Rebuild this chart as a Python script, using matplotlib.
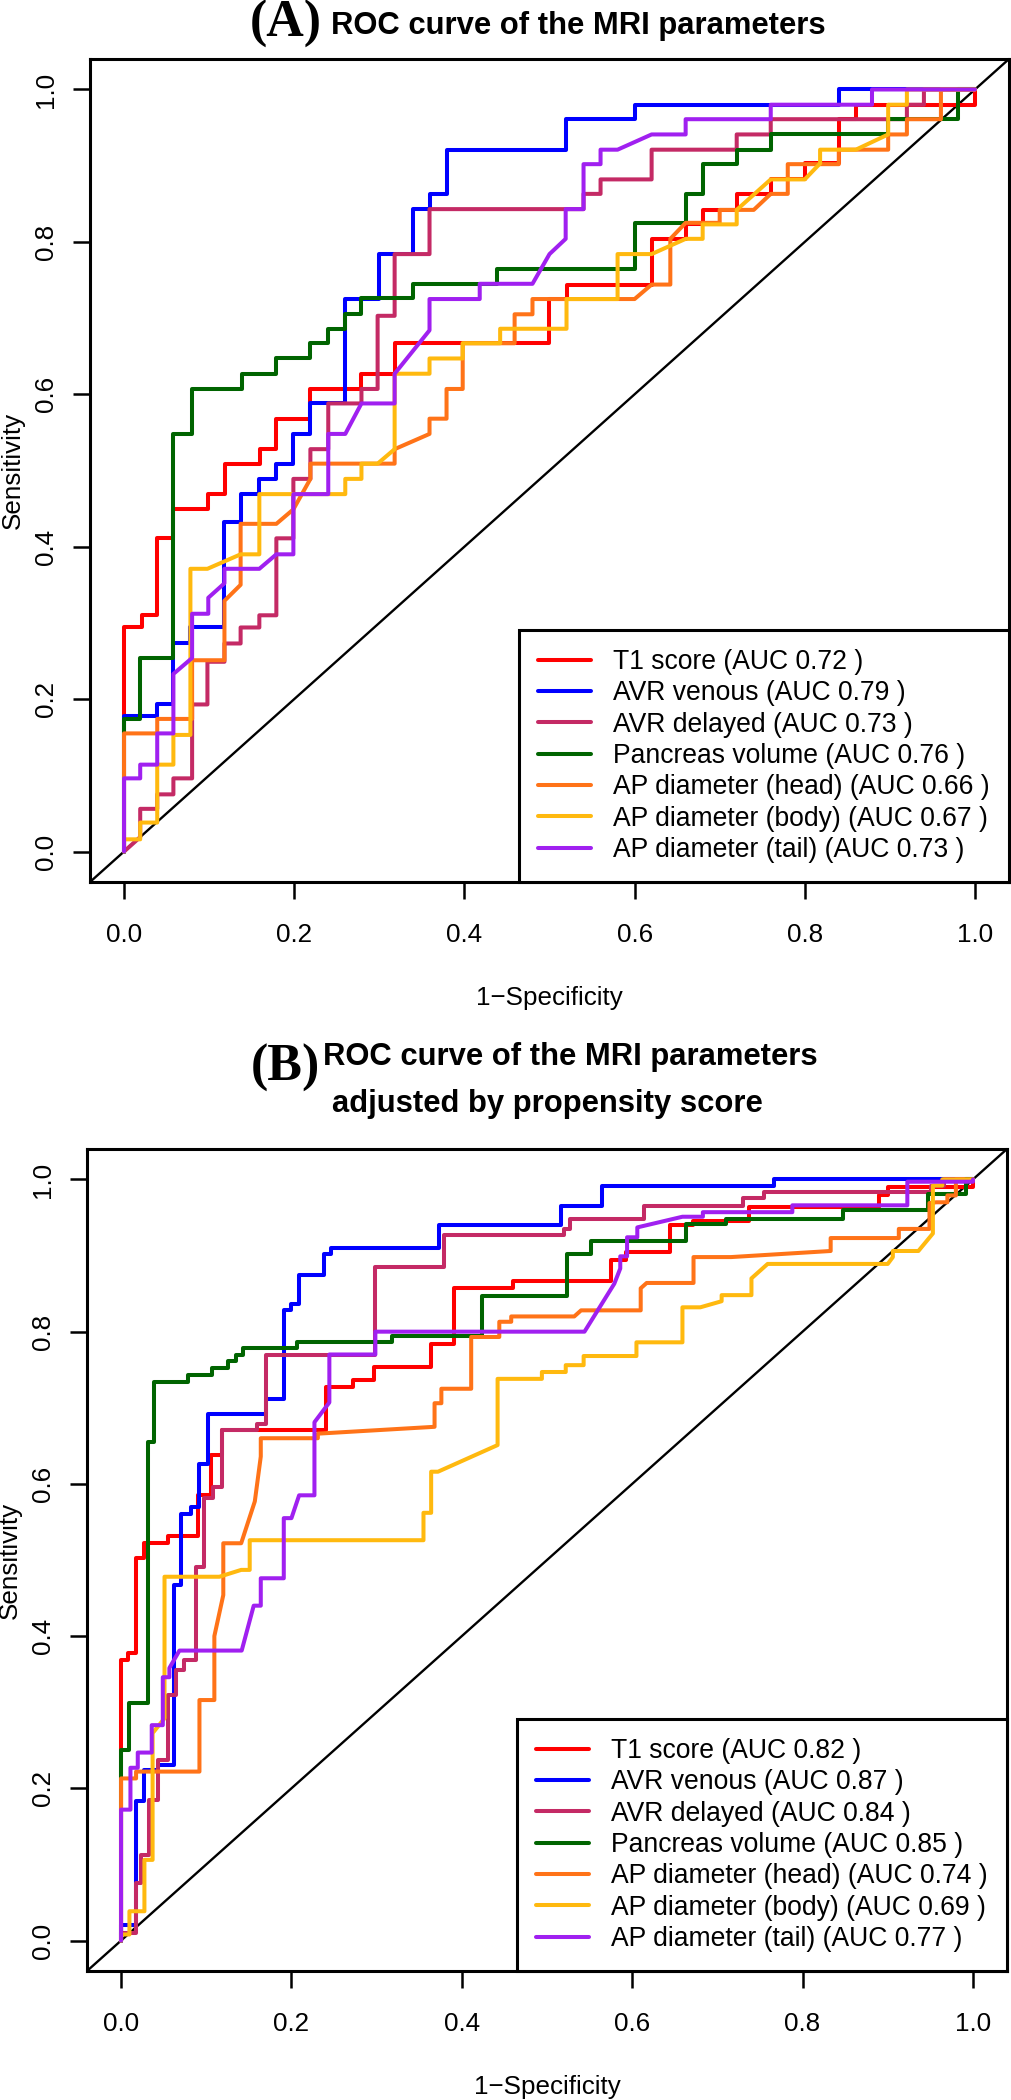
import matplotlib
matplotlib.use("Agg")
import matplotlib.pyplot as plt

plt.rcParams['font.family'] = ['Liberation Sans', 'DejaVu Sans']

# ---------------- DATA ----------------
SERIES_NAMES = ["T1 score", "AVR venous", "AVR delayed", "Pancreas volume",
                "AP diameter (head)", "AP diameter (body)", "AP diameter (tail)"]
AUC_A = [0.72, 0.79, 0.73, 0.76, 0.66, 0.67, 0.73]
AUC_B = [0.82, 0.87, 0.84, 0.85, 0.74, 0.69, 0.77]
TICKS = [0.0, 0.2, 0.4, 0.6, 0.8, 1.0]
TICK_LABELS = ["0.0", "0.2", "0.4", "0.6", "0.8", "1.0"]
TITLE_A_TAG = "(A)"
TITLE_A = "ROC curve of the MRI parameters"
TITLE_B_TAG = "(B)"
TITLE_B_1 = "ROC curve of the MRI parameters"
TITLE_B_2 = "adjusted by propensity score"
XLABEL = "1\u2212Specificity"
YLABEL = "Sensitivity"

# ---- Panel A curves (1-specificity, sensitivity) ----
A_T1_X = [0, 0, 0.021, 0.021, 0.039, 0.039, 0.058, 0.058, 0.099, 0.099, 0.119, 0.119, 0.16, 0.16, 0.179, 0.179,
          0.219, 0.219, 0.279, 0.279, 0.318, 0.318, 0.50, 0.50, 0.52, 0.52, 0.62, 0.62, 0.66, 0.66, 0.68, 0.68,
          0.72, 0.72, 0.76, 0.76, 0.80, 0.80, 0.84, 0.84, 0.86, 0.86, 1.0, 1.0]
A_T1_Y = [0, 0.294, 0.294, 0.31, 0.31, 0.411, 0.411, 0.45, 0.45, 0.469, 0.469, 0.509, 0.509, 0.528, 0.528, 0.568,
          0.568, 0.607, 0.607, 0.627, 0.627, 0.667, 0.667, 0.725, 0.725, 0.744, 0.744, 0.804, 0.804, 0.823, 0.823, 0.842,
          0.842, 0.863, 0.863, 0.882, 0.882, 0.904, 0.904, 0.961, 0.961, 0.979, 0.979, 1.0]

A_VEN_X = [0, 0, 0.039, 0.039, 0.058, 0.058, 0.078, 0.078, 0.118, 0.118, 0.137, 0.137, 0.159, 0.159, 0.179, 0.179,
           0.199, 0.199, 0.219, 0.219, 0.26, 0.26, 0.30, 0.30, 0.34, 0.34, 0.36, 0.36, 0.379, 0.379, 0.519, 0.519,
           0.60, 0.60, 0.84, 0.84, 1.0]
A_VEN_Y = [0, 0.178, 0.178, 0.193, 0.193, 0.273, 0.273, 0.294, 0.294, 0.432, 0.432, 0.469, 0.469, 0.489, 0.489, 0.509,
           0.509, 0.548, 0.548, 0.588, 0.588, 0.725, 0.725, 0.784, 0.784, 0.843, 0.843, 0.863, 0.863, 0.921, 0.921, 0.961,
           0.961, 0.98, 0.98, 1.0, 1.0]

A_DEL_X = [0, 0.019, 0.019, 0.039, 0.039, 0.058, 0.058, 0.080, 0.080, 0.098, 0.098, 0.118, 0.118, 0.137, 0.137,
           0.159, 0.159, 0.179, 0.179, 0.199, 0.199, 0.219, 0.219, 0.24, 0.24, 0.279, 0.279, 0.298, 0.298, 0.318, 0.318,
           0.359, 0.359, 0.54, 0.54, 0.56, 0.56, 0.62, 0.62, 0.72, 0.72, 0.76, 0.76, 0.92, 0.92, 0.94, 0.94, 1.0]
A_DEL_Y = [0, 0.019, 0.056, 0.056, 0.075, 0.075, 0.096, 0.096, 0.193, 0.193, 0.249, 0.249, 0.273, 0.273, 0.294,
           0.294, 0.31, 0.31, 0.411, 0.411, 0.489, 0.489, 0.528, 0.528, 0.588, 0.588, 0.607, 0.607, 0.703, 0.703, 0.784,
           0.784, 0.843, 0.843, 0.863, 0.863, 0.882, 0.882, 0.921, 0.921, 0.941, 0.941, 0.961, 0.961, 0.98, 0.98, 1.0, 1.0]

A_VOL_X = [0, 0, 0.019, 0.019, 0.058, 0.058, 0.08, 0.08, 0.139, 0.139, 0.179, 0.179, 0.219, 0.219, 0.24, 0.24,
           0.26, 0.26, 0.279, 0.279, 0.34, 0.34, 0.438, 0.438, 0.60, 0.60, 0.66, 0.66, 0.68, 0.68, 0.72, 0.72,
           0.76, 0.76, 0.898, 0.898, 0.98, 0.98, 1.0]
A_VOL_Y = [0, 0.174, 0.174, 0.254, 0.254, 0.548, 0.548, 0.607, 0.607, 0.627, 0.627, 0.647, 0.647, 0.667, 0.667, 0.686,
           0.686, 0.706, 0.706, 0.726, 0.726, 0.745, 0.745, 0.764, 0.764, 0.825, 0.825, 0.863, 0.863, 0.902, 0.902, 0.921,
           0.921, 0.941, 0.941, 0.961, 0.961, 1.0, 1.0]

A_HEAD_X = [0, 0, 0.039, 0.039, 0.08, 0.08, 0.118, 0.118, 0.137, 0.137, 0.179, 0.199, 0.219, 0.219, 0.318, 0.318,
            0.359, 0.359, 0.379, 0.379, 0.398, 0.398, 0.459, 0.459, 0.48, 0.48, 0.60, 0.62, 0.642, 0.642, 0.66, 0.70,
            0.70, 0.74, 0.76, 0.78, 0.78, 0.84, 0.84, 0.898, 0.898, 0.92, 0.92, 0.96, 0.96, 1.0]
A_HEAD_Y = [0, 0.155, 0.155, 0.174, 0.174, 0.251, 0.251, 0.329, 0.35, 0.43, 0.43, 0.449, 0.489, 0.509, 0.509, 0.528,
            0.548, 0.568, 0.568, 0.607, 0.607, 0.667, 0.667, 0.705, 0.705, 0.725, 0.725, 0.744, 0.744, 0.804, 0.825, 0.825,
            0.842, 0.842, 0.863, 0.863, 0.902, 0.902, 0.921, 0.921, 0.941, 0.941, 0.961, 0.961, 1.0, 1.0]

A_BODY_X = [0, 0, 0.019, 0.019, 0.039, 0.039, 0.058, 0.058, 0.078, 0.078, 0.098, 0.137, 0.159, 0.159, 0.26, 0.26,
            0.279, 0.279, 0.298, 0.318, 0.318, 0.359, 0.359, 0.398, 0.398, 0.442, 0.442, 0.52, 0.52, 0.58, 0.58, 0.62,
            0.66, 0.68, 0.68, 0.72, 0.72, 0.76, 0.80, 0.818, 0.818, 0.86, 0.898, 0.898, 0.92, 0.92, 1.0]
A_BODY_Y = [0, 0.016, 0.016, 0.038, 0.038, 0.114, 0.114, 0.153, 0.153, 0.371, 0.371, 0.39, 0.39, 0.469, 0.469, 0.489,
            0.489, 0.509, 0.509, 0.528, 0.627, 0.627, 0.647, 0.647, 0.667, 0.667, 0.686, 0.686, 0.725, 0.725, 0.784, 0.784,
            0.804, 0.804, 0.823, 0.823, 0.842, 0.882, 0.882, 0.903, 0.921, 0.921, 0.941, 0.98, 0.98, 1.0, 1.0]

A_TAIL_X = [0, 0, 0.019, 0.019, 0.039, 0.039, 0.058, 0.058, 0.08, 0.08, 0.099, 0.099, 0.118, 0.118, 0.159, 0.179,
            0.199, 0.199, 0.24, 0.24, 0.26, 0.279, 0.318, 0.318, 0.359, 0.359, 0.418, 0.418, 0.48, 0.50, 0.519, 0.519,
            0.54, 0.54, 0.56, 0.56, 0.58, 0.62, 0.66, 0.66, 0.76, 0.76, 0.879, 0.879, 1.0]
A_TAIL_Y = [0, 0.096, 0.096, 0.114, 0.114, 0.155, 0.155, 0.233, 0.254, 0.312, 0.312, 0.333, 0.352, 0.371, 0.371, 0.39,
            0.39, 0.469, 0.469, 0.548, 0.548, 0.588, 0.588, 0.627, 0.684, 0.725, 0.725, 0.745, 0.745, 0.784, 0.804, 0.843,
            0.843, 0.902, 0.902, 0.921, 0.921, 0.941, 0.941, 0.961, 0.961, 0.98, 0.98, 1.0, 1.0]

# ---- Panel B curves ----
B_T1_X = [0, 0, 0.0078, 0.0078, 0.0176, 0.0176, 0.027, 0.027, 0.055, 0.055, 0.090, 0.090, 0.106, 0.106, 0.119, 0.119,
          0.241, 0.241, 0.272, 0.272, 0.297, 0.297, 0.364, 0.364, 0.391, 0.391, 0.46, 0.46, 0.575, 0.575, 0.593, 0.593,
          0.644, 0.644, 0.671, 0.671, 0.737, 0.737, 0.89, 0.89, 0.90, 0.90, 1.0, 1.0]
B_T1_Y = [0, 0.369, 0.369, 0.378, 0.378, 0.502, 0.502, 0.522, 0.522, 0.531, 0.531, 0.585, 0.585, 0.638, 0.638, 0.671,
          0.671, 0.727, 0.727, 0.736, 0.736, 0.753, 0.753, 0.784, 0.784, 0.857, 0.857, 0.867, 0.867, 0.894, 0.894, 0.905,
          0.905, 0.94, 0.94, 0.946, 0.946, 0.964, 0.964, 0.979, 0.979, 0.99, 0.99, 1.0]

B_VEN_X = [0, 0, 0.0176, 0.0176, 0.0274, 0.0274, 0.043, 0.043, 0.0626, 0.0626, 0.0704, 0.0704, 0.082, 0.082, 0.092,
           0.092, 0.102, 0.102, 0.17, 0.17, 0.191, 0.191, 0.20, 0.20, 0.209, 0.209, 0.238, 0.238, 0.246, 0.246, 0.373,
           0.373, 0.516, 0.516, 0.565, 0.565, 0.766, 0.766, 1.0]
B_VEN_Y = [0, 0.02, 0.02, 0.183, 0.183, 0.224, 0.224, 0.231, 0.231, 0.467, 0.467, 0.561, 0.561, 0.57, 0.57,
           0.626, 0.626, 0.692, 0.692, 0.712, 0.712, 0.828, 0.828, 0.837, 0.837, 0.875, 0.875, 0.902, 0.902, 0.91, 0.91,
           0.94, 0.94, 0.965, 0.965, 0.992, 0.992, 1.0, 1.0]

B_DEL_X = [0, 0, 0.0176, 0.0176, 0.0235, 0.0235, 0.033, 0.033, 0.043, 0.043, 0.0548, 0.0548, 0.0646, 0.0646, 0.0743,
           0.0743, 0.088, 0.088, 0.0978, 0.0978, 0.108, 0.108, 0.1185, 0.1185, 0.16, 0.16, 0.17, 0.17, 0.2985, 0.2985,
           0.379, 0.379, 0.52, 0.52, 0.527, 0.527, 0.614, 0.614, 0.73, 0.73, 0.755, 0.755, 0.951, 0.951, 0.966, 0.966, 1.0]
B_DEL_Y = [0, 0.01, 0.01, 0.0757, 0.0757, 0.113, 0.113, 0.185, 0.185, 0.2375, 0.2375, 0.323, 0.323, 0.356, 0.356,
           0.369, 0.369, 0.491, 0.491, 0.581, 0.581, 0.596, 0.596, 0.671, 0.671, 0.679, 0.679, 0.769, 0.769, 0.885,
           0.885, 0.927, 0.927, 0.935, 0.935, 0.948, 0.948, 0.965, 0.965, 0.976, 0.976, 0.983, 0.983, 0.992, 0.992, 1.0, 1.0]

B_VOL_X = [0, 0, 0.0098, 0.0098, 0.0313, 0.0313, 0.039, 0.039, 0.078, 0.078, 0.107, 0.107, 0.126, 0.126, 0.135, 0.135,
           0.143, 0.143, 0.207, 0.207, 0.318, 0.318, 0.424, 0.424, 0.524, 0.524, 0.552, 0.552, 0.663, 0.663, 0.71, 0.71,
           0.847, 0.847, 0.947, 0.947, 0.992, 0.992, 1.0]
B_VOL_Y = [0, 0.25, 0.25, 0.312, 0.312, 0.655, 0.655, 0.734, 0.734, 0.743, 0.743, 0.752, 0.752, 0.761, 0.761, 0.77,
           0.77, 0.778, 0.778, 0.786, 0.786, 0.794, 0.794, 0.847, 0.847, 0.902, 0.902, 0.919, 0.919, 0.942, 0.942, 0.948,
           0.948, 0.96, 0.96, 0.981, 0.981, 1.0, 1.0]

B_HEAD_X = [0, 0, 0.0176, 0.0176, 0.092, 0.092, 0.1095, 0.1095, 0.12, 0.12, 0.141, 0.157, 0.164, 0.164, 0.231, 0.231,
            0.368, 0.368, 0.376, 0.376, 0.411, 0.411, 0.444, 0.444, 0.458, 0.458, 0.532, 0.54, 0.61, 0.61, 0.617, 0.672,
            0.672, 0.716, 0.833, 0.833, 0.913, 0.913, 0.949, 0.949, 0.957, 0.97, 0.97, 0.98, 0.98, 1.0]
B_HEAD_Y = [0, 0.213, 0.213, 0.222, 0.222, 0.316, 0.316, 0.40, 0.454, 0.522, 0.522, 0.577, 0.636, 0.66, 0.66, 0.666,
            0.675, 0.706, 0.706, 0.725, 0.725, 0.793, 0.793, 0.813, 0.813, 0.82, 0.82, 0.828, 0.828, 0.857, 0.864, 0.864,
            0.898, 0.898, 0.906, 0.923, 0.923, 0.935, 0.935, 0.969, 0.97, 0.97, 0.979, 0.979, 1.0, 1.0]

B_BODY_X = [0, 0, 0.0098, 0.0098, 0.0274, 0.0274, 0.037, 0.037, 0.051, 0.051, 0.1154, 0.141, 0.151, 0.151, 0.355,
            0.355, 0.364, 0.364, 0.372, 0.442, 0.442, 0.494, 0.494, 0.522, 0.522, 0.543, 0.543, 0.605, 0.605, 0.659,
            0.659, 0.68, 0.705, 0.705, 0.74, 0.74, 0.759, 0.9, 0.906, 0.906, 0.936, 0.953, 0.953, 0.964, 0.964, 1.0]
B_BODY_Y = [0, 0.008, 0.008, 0.0385, 0.0385, 0.106, 0.106, 0.2725, 0.292, 0.478, 0.478, 0.487, 0.487, 0.526, 0.526,
            0.562, 0.562, 0.616, 0.616, 0.651, 0.738, 0.738, 0.747, 0.747, 0.756, 0.756, 0.768, 0.768, 0.786, 0.786,
            0.832, 0.832, 0.84, 0.848, 0.848, 0.87, 0.889, 0.889, 0.898, 0.906, 0.906, 0.929, 0.992, 0.992, 1.0, 1.0]

B_TAIL_X = [0, 0, 0.011, 0.011, 0.0196, 0.0196, 0.036, 0.036, 0.049, 0.049, 0.0567, 0.0567, 0.0685, 0.1416, 0.1557,
            0.164, 0.164, 0.191, 0.191, 0.2, 0.209, 0.227, 0.227, 0.2445, 0.2445, 0.2985, 0.2985, 0.544, 0.579, 0.586,
            0.586, 0.594, 0.594, 0.606, 0.606, 0.659, 0.683, 0.683, 0.788, 0.788, 0.923, 0.923, 1.0, 1.0]
B_TAIL_Y = [0, 0.172, 0.172, 0.227, 0.227, 0.247, 0.247, 0.283, 0.283, 0.346, 0.346, 0.358, 0.381, 0.381, 0.44,
            0.44, 0.476, 0.476, 0.555, 0.555, 0.585, 0.585, 0.681, 0.707, 0.77, 0.77, 0.80, 0.80, 0.863, 0.883,
            0.899, 0.899, 0.924, 0.924, 0.937, 0.951, 0.951, 0.957, 0.957, 0.966, 0.966, 0.997, 0.997, 1.0]

COLORS = ["#FF0000", "#0000FF", "#C42A65", "#006400", "#FF7318", "#FFB90F", "#A020F0"]

# ---------------- LAYOUT ----------------
W, H = 1012, 2100
fig = plt.figure(figsize=(W / 100, H / 100), dpi=100)
fig.patch.set_facecolor("white")

PX = 100 / 72.0  # pixels per point at dpi 100
FS = 26 / PX      # base font (pt)
FS_LEG = 26.5 / PX
FS_TITLE = 31 / PX
FS_TAG = 52 / PX
LW = 2.9


def rect(l, r, t, b):
    return [l / W, 1 - b / H, (r - l) / W, (b - t) / H]


def fig_xy(x, y):
    return x / W, 1 - y / H


def draw_panel(ax, curves_x, curves_y, aucs, box):
    l, r, t, b = box
    ax.set_xlim(-0.04, 1.04)
    ax.set_ylim(-0.04, 1.04)
    ax.axline((0, 0), (1, 1), color="black", lw=1.7, zorder=1)
    for xs, ys, c in zip(curves_x, curves_y, COLORS):
        ax.plot(xs, ys, color=c, lw=LW, solid_joinstyle="round", solid_capstyle="round", zorder=2)
    ax.set_xticks(TICKS)
    ax.set_xticklabels(TICK_LABELS)
    ax.set_yticks(TICKS)
    ax.set_yticklabels(TICK_LABELS, rotation=90, va="center")
    ax.tick_params(axis="both", direction="out", length=12.5, width=1.8, labelsize=FS, color="black")
    ax.tick_params(axis="x", pad=17)
    ax.tick_params(axis="y", pad=10.5)
    for s in ax.spines.values():
        s.set_linewidth(2.2)
        s.set_color("black")
    ax.set_xlabel(XLABEL, fontsize=FS, va="baseline")
    ax.xaxis.set_label_coords(0.5, -(123) / (b - t))
    ax.set_ylabel(YLABEL, fontsize=FS, va="baseline")
    ax.yaxis.set_label_coords(-(70) / (r - l), 0.5)
    labels = ["%s (AUC %.2f )" % (n, a) for n, a in zip(SERIES_NAMES, aucs)]
    handles = ax.get_lines()[1:]
    leg = ax.legend(handles, labels, loc="lower right", borderaxespad=0, fontsize=FS_LEG,
                    handlelength=2.0, handletextpad=0.85, borderpad=0.72, labelspacing=0.2,
                    fancybox=False, framealpha=1, edgecolor="black", facecolor="white")
    leg.get_frame().set_linewidth(2.2)
    for ln in leg.get_lines():
        ln.set_linewidth(LW)


boxA = (90, 1009, 59, 882)
boxB = (87, 1007, 1149, 1971)
axA = fig.add_axes(rect(*boxA))
axB = fig.add_axes(rect(*boxB))

draw_panel(axA, [A_T1_X, A_VEN_X, A_DEL_X, A_VOL_X, A_HEAD_X, A_BODY_X, A_TAIL_X],
           [A_T1_Y, A_VEN_Y, A_DEL_Y, A_VOL_Y, A_HEAD_Y, A_BODY_Y, A_TAIL_Y], AUC_A, boxA)
draw_panel(axB, [B_T1_X, B_VEN_X, B_DEL_X, B_VOL_X, B_HEAD_X, B_BODY_X, B_TAIL_X],
           [B_T1_Y, B_VEN_Y, B_DEL_Y, B_VOL_Y, B_HEAD_Y, B_BODY_Y, B_TAIL_Y], AUC_B, boxB)

# titles
serif = ["Liberation Serif", "DejaVu Serif"]
fig.text(*fig_xy(322, 37), TITLE_A_TAG, family=serif, weight="bold", fontsize=FS_TAG, ha="right", va="baseline")
fig.text(*fig_xy(331, 34), TITLE_A, weight="bold", fontsize=FS_TITLE, ha="left", va="baseline")
fig.text(*fig_xy(320, 1081), TITLE_B_TAG, family=serif, weight="bold", fontsize=FS_TAG, ha="right", va="baseline")
fig.text(*fig_xy(323, 1065), TITLE_B_1, weight="bold", fontsize=FS_TITLE, ha="left", va="baseline")
fig.text(*fig_xy(547, 1112), TITLE_B_2, weight="bold", fontsize=FS_TITLE, ha="center", va="baseline")

fig.savefig("out.png", dpi=100, facecolor="white")
